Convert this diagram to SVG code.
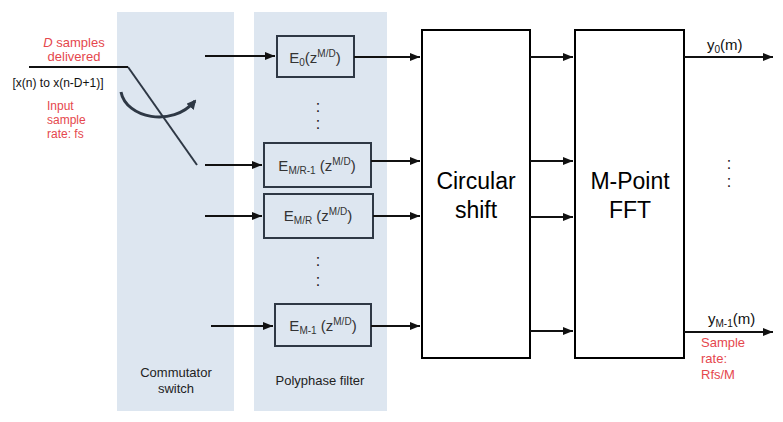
<svg xmlns="http://www.w3.org/2000/svg" width="783" height="422" viewBox="0 0 783 422">
<defs>
<marker id="ah" viewBox="0 0 10 10" refX="10" refY="5" markerWidth="5" markerHeight="5" orient="auto" markerUnits="strokeWidth"><path d="M0,1 L10,5 L0,9 z" fill="#111"/></marker>
<marker id="ahc" viewBox="0 0 10 10" refX="8" refY="5" markerWidth="3.2" markerHeight="3.2" orient="auto" markerUnits="strokeWidth"><path d="M0,0 L10,5 L0,10 z" fill="#2e3845"/></marker>
</defs>
<style>
text{font-family:"Liberation Sans",Arial,sans-serif}
.panel{fill:#dde6f0}
.pbox{fill:none;stroke:#2e3845;stroke-width:2}
.bbox{fill:#fff;stroke:#000;stroke-width:2}
.ln{stroke:#111;stroke-width:2;fill:none}
.lab{font-size:13px;fill:#222;text-anchor:middle}
.red{font-size:13px;fill:#e5474d}
.red2{font-size:12px;fill:#e5474d}
.bt{font-size:15px;fill:#333;text-anchor:middle}
.big{font-size:23px;fill:#000;text-anchor:middle}
.dot{font-size:16px;fill:#222;text-anchor:middle}
</style>
<g id="panels">
<rect class="panel" x="117" y="12" width="117" height="399"/>
<rect class="panel" x="254" y="12" width="133" height="399"/>
<text class="lab" x="176" y="377">Commutator</text>
<text class="lab" x="176" y="393">switch</text>
<text class="lab" x="320" y="385">Polyphase filter</text>
</g>
<g id="input">
<text class="red" x="74" y="47" text-anchor="middle"><tspan font-style="italic">D</tspan> samples</text>
<text class="red" x="74" y="61" text-anchor="middle">delivered</text>
<text x="58" y="87" font-size="12" text-anchor="middle" fill="#111">[x(n) to x(n-D+1)]</text>
<text class="red2" x="47" y="110">Input</text>
<text class="red2" x="47" y="124">sample</text>
<text class="red2" x="47" y="138">rate: fs</text>
</g>
<g id="switch">
<line x1="128" y1="67" x2="197" y2="165" stroke="#2e3845" stroke-width="2"/>
<path d="M121,92 C126,118 172,128 195,101" fill="none" stroke="#2e3845" stroke-width="3" marker-end="url(#ahc)"/>
</g>
<g id="E0">
<rect class="pbox" x="277" y="36" width="77" height="41"/>
<text class="bt" x="315" y="63">E<tspan font-size="10" dy="3">0</tspan><tspan dy="-3">(z</tspan><tspan font-size="10" dy="-6">M/D</tspan><tspan dy="6">)</tspan></text>
</g>
<g id="EMR1">
<rect class="pbox" x="264" y="143" width="107" height="44"/>
<text class="bt" x="317" y="171">E<tspan font-size="10" dy="3">M/R-1</tspan><tspan dy="-3"> (z</tspan><tspan font-size="10" dy="-6">M/D</tspan><tspan dy="6">)</tspan></text>
</g>
<g id="EMR">
<rect class="pbox" x="264" y="194" width="109" height="44"/>
<text class="bt" x="318" y="221">E<tspan font-size="10" dy="3">M/R</tspan><tspan dy="-3"> (z</tspan><tspan font-size="10" dy="-6">M/D</tspan><tspan dy="6">)</tspan></text>
</g>
<g id="EM1">
<rect class="pbox" x="275" y="304" width="96" height="42"/>
<text class="bt" x="323" y="331">E<tspan font-size="10" dy="3">M-1</tspan><tspan dy="-3"> (z</tspan><tspan font-size="10" dy="-6">M/D</tspan><tspan dy="6">)</tspan></text>
</g>
<g id="dots">
<text class="dot" x="318" y="112">:</text>
<text class="dot" x="318" y="129">:</text>
<text class="dot" x="318" y="266">:</text>
<text class="dot" x="318" y="286">:</text>
<text class="dot" x="729" y="169">:</text>
<text class="dot" x="729" y="187">:</text>
</g>
<g id="circshift">
<rect class="bbox" x="422" y="30" width="108" height="328"/>
<text class="big" x="476" y="189">Circular</text>
<text class="big" x="476" y="218">shift</text>
</g>
<g id="fft">
<rect class="bbox" x="575" y="30" width="109" height="328"/>
<text class="big" x="630" y="189">M-Point</text>
<text class="big" x="630" y="218">FFT</text>
</g>
<g id="connectors">
<line class="ln" x1="29" y1="67" x2="128" y2="67"/>
<line class="ln" x1="205" y1="56" x2="275" y2="56" marker-end="url(#ah)"/>
<line class="ln" x1="205" y1="165" x2="262" y2="165" marker-end="url(#ah)"/>
<line class="ln" x1="205" y1="216" x2="262" y2="216" marker-end="url(#ah)"/>
<line class="ln" x1="211" y1="326" x2="273" y2="326" marker-end="url(#ah)"/>
<line class="ln" x1="354" y1="57" x2="420" y2="57" marker-end="url(#ah)"/>
<line class="ln" x1="371" y1="161" x2="420" y2="161" marker-end="url(#ah)"/>
<line class="ln" x1="373" y1="216" x2="420" y2="216" marker-end="url(#ah)"/>
<line class="ln" x1="371" y1="326" x2="420" y2="326" marker-end="url(#ah)"/>
<line class="ln" x1="530" y1="57" x2="573" y2="57" marker-end="url(#ah)"/>
<line class="ln" x1="530" y1="161" x2="573" y2="161" marker-end="url(#ah)"/>
<line class="ln" x1="530" y1="217" x2="573" y2="217" marker-end="url(#ah)"/>
<line class="ln" x1="530" y1="331" x2="573" y2="331" marker-end="url(#ah)"/>
<line class="ln" x1="684" y1="57" x2="773" y2="57" marker-end="url(#ah)"/>
<line class="ln" x1="684" y1="332" x2="773" y2="332" marker-end="url(#ah)"/>
</g>
<g id="outputs">
<text x="707" y="50" font-size="15" fill="#111">y<tspan font-size="10" dy="3">0</tspan><tspan dy="-3">(m)</tspan></text>
<text x="708" y="324" font-size="15" fill="#111">y<tspan font-size="10" dy="3">M-1</tspan><tspan dy="-3">(m)</tspan></text>
<text class="red" x="701" y="347">Sample</text>
<text class="red" x="701" y="363">rate:</text>
<text class="red" x="701" y="379">Rfs/M</text>
</g>
</svg>
